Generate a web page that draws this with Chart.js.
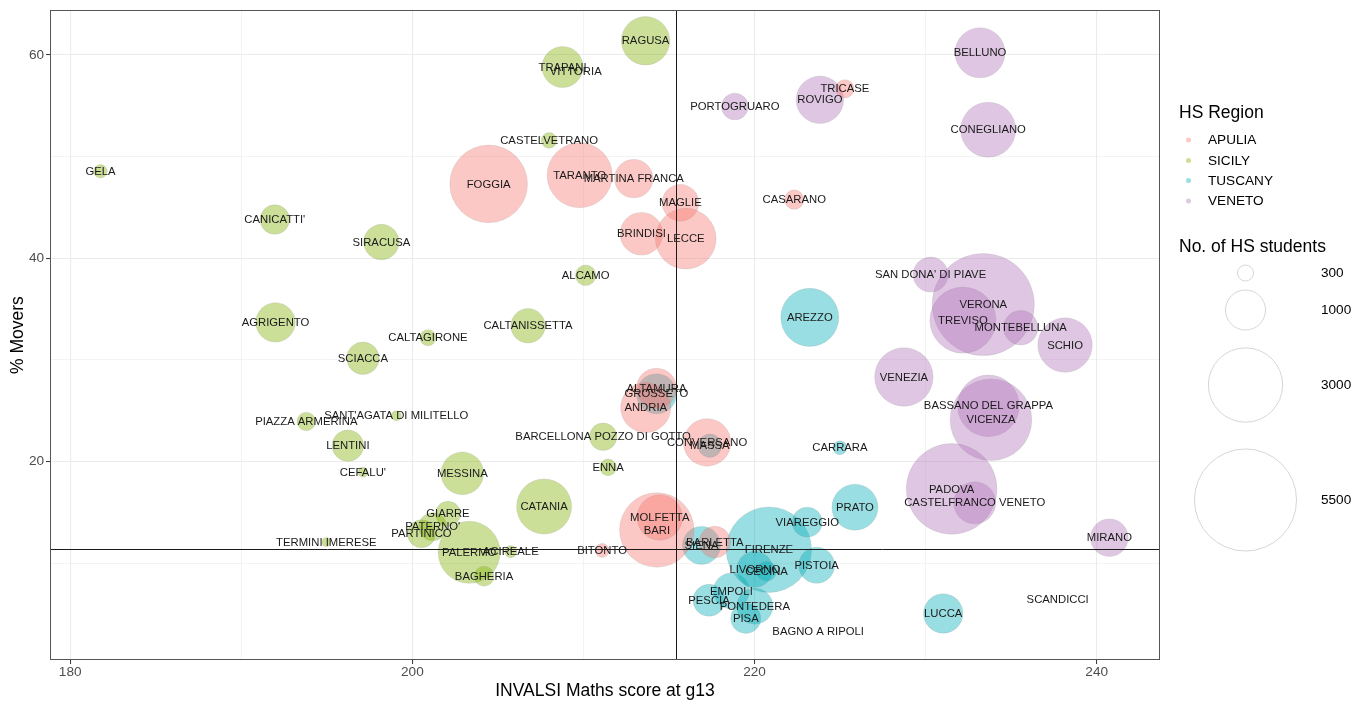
<!DOCTYPE html>
<html><head><meta charset="utf-8">
<script src="https://cdn.jsdelivr.net/npm/chart.js@4.4.1/dist/chart.umd.min.js"></script>
<style>html,body{margin:0;padding:0;background:#fff;}#wrap{position:relative;width:1369px;height:702px;}</style>
</head><body><div id="wrap"><canvas id="c" width="1369" height="702"></canvas></div>
<script>
// ---------- DATA ----------
const regions = ['APULIA', 'SICILY', 'TUSCANY', 'VENETO'];
const regionColors = ['248,118,109', '124,174,0', '0,172,182', '175,115,185'];

const names = [
  "GELA","CANICATTI'","SIRACUSA","AGRIGENTO","CALTAGIRONE","SCIACCA","PIAZZA ARMERINA","SANT'AGATA DI MILITELLO",
  "LENTINI","CEFALU'","TERMINI IMERESE","GIARRE","PATERNO'","PARTINICO","PALERMO","ACIREALE","BAGHERIA","MESSINA",
  "CATANIA","ENNA","BARCELLONA POZZO DI GOTTO","CALTANISSETTA","ALCAMO","CASTELVETRANO","TRAPANI","VITTORIA","RAGUSA",
  "FOGGIA","TARANTO","MARTINA FRANCA","MAGLIE","BRINDISI","LECCE","CASARANO","TRICASE","ALTAMURA","ANDRIA",
  "CONVERSANO","BARI","MOLFETTA","BARLETTA","BITONTO",
  "GROSSETO","MASSA","SIENA","FIRENZE","LIVORNO","CECINA","VIAREGGIO","PISTOIA","EMPOLI","PESCIA","PONTEDERA",
  "PISA","BAGNO A RIPOLI","LUCCA","SCANDICCI","PRATO","CARRARA","AREZZO",
  "PORTOGRUARO","ROVIGO","BELLUNO","CONEGLIANO","SAN DONA' DI PIAVE","VERONA","TREVISO","MONTEBELLUNA","SCHIO",
  "VENEZIA","BASSANO DEL GRAPPA","VICENZA","PADOVA","CASTELFRANCO VENETO","MIRANO"
];
const region = [
  "SICILY","SICILY","SICILY","SICILY","SICILY","SICILY","SICILY","SICILY",
  "SICILY","SICILY","SICILY","SICILY","SICILY","SICILY","SICILY","SICILY","SICILY","SICILY",
  "SICILY","SICILY","SICILY","SICILY","SICILY","SICILY","SICILY","SICILY","SICILY",
  "APULIA","APULIA","APULIA","APULIA","APULIA","APULIA","APULIA","APULIA","APULIA","APULIA",
  "APULIA","APULIA","APULIA","APULIA","APULIA",
  "TUSCANY","TUSCANY","TUSCANY","TUSCANY","TUSCANY","TUSCANY","TUSCANY","TUSCANY","TUSCANY","TUSCANY","TUSCANY",
  "TUSCANY","TUSCANY","TUSCANY","TUSCANY","TUSCANY","TUSCANY","TUSCANY",
  "VENETO","VENETO","VENETO","VENETO","VENETO","VENETO","VENETO","VENETO","VENETO",
  "VENETO","VENETO","VENETO","VENETO","VENETO","VENETO"
];
// INVALSI Maths score at g13
const maths = [
  181.77,191.96,198.19,192.00,200.91,197.11,193.80,199.06,
  196.23,197.11,194.97,202.08,201.19,200.53,203.32,205.75,204.19,202.92,
  207.70,211.44,211.15,206.76,210.13,207.99,208.78,209.55,213.63,
  204.46,209.78,212.94,215.67,213.39,215.98,222.32,225.28,214.27,213.64,
  217.23,214.29,214.46,217.68,211.09,
  214.27,217.39,216.90,220.84,220.02,220.70,223.08,223.63,218.65,217.34,220.02,
  219.49,223.72,231.03,237.72,225.87,224.99,223.23,
  218.85,223.82,233.18,233.66,230.29,233.37,232.18,235.56,238.15,
  228.73,233.67,233.82,231.52,232.87,240.74
];
// % Movers
const movers = [
  48.56,43.82,41.60,33.70,32.19,30.17,23.95,24.51,
  21.57,18.95,12.09,14.87,13.60,12.91,11.08,11.15,8.73,18.85,
  15.59,19.44,22.45,33.36,38.33,51.60,58.82,58.43,61.40,
  47.32,48.17,47.84,45.46,42.42,41.93,45.78,56.67,27.22,25.32,
  21.89,13.28,14.51,12.09,11.27,
  26.67,21.57,11.76,11.34,9.41,9.22,14.05,9.80,7.28,6.37,5.78,
  4.58,3.27,5.07,6.44,15.52,21.37,34.19,
  54.93,55.59,60.22,52.65,38.40,35.46,33.92,33.17,31.47,
  28.33,25.49,24.12,17.32,15.95,12.52
];
// No. of HS students
const students = [
  274,624,822,975,313,718,359,233,
  685,233,223,501,583,583,2147,256,386,1110,
  1728,323,566,787,399,306,1041,190,1378,
  3260,2342,936,867,1110,2059,374,355,1000,1460,
  1329,3012,1235,693,282,
  1000,462,920,3910,844,386,642,844,844,706,844,
  642,182,975,182,1264,282,1902,
  544,1331,1460,1728,808,5500,2409,787,1695,
  1926,2123,3587,4378,1084,904
];

const xTicks = [180, 190, 200, 210, 220, 230, 240];
const xTickLabels = [180, 200, 220, 240];
const yTicks = [10, 20, 30, 40, 50, 60];
const yTickLabels = [20, 40, 60];
const sizeBreaks = [300, 1000, 3000, 5500];
const refMaths = 215.4;   // vertical reference line
const refMovers = 11.37;  // horizontal reference line

// ---------- BUILD ----------
const FONT = '"Liberation Sans", Arial, Helvetica, sans-serif';
function sizeScale(n) { return 0.7 * Math.sqrt(Math.max(n - 182, 0)); }

const datasets = regions.map((rg, k) => {
  const pts = [];
  names.forEach((nm, i) => {
    if (region[i] === rg) pts.push({x: maths[i], y: movers[i], r: sizeScale(students[i]), label: nm});
  });
  return {
    label: rg, data: pts,
    backgroundColor: 'rgba(' + regionColors[k] + ',0.4)',
    borderColor: 'rgba(140,140,140,0.25)',
    borderWidth: 0.7,
    hoverRadius: 0, hoverBorderWidth: 0.7
  };
});

const overlay = {
  id: 'overlay',
  afterDatasetsDraw(chart) {
    const ctx = chart.ctx, ca = chart.chartArea;
    const xs = chart.scales.x, ys = chart.scales.y;
    ctx.save();
    ctx.strokeStyle = '#1a1a1a'; ctx.lineWidth = 1;
    const px = Math.round(xs.getPixelForValue(refMaths)) + 0.5;
    const py = Math.round(ys.getPixelForValue(refMovers)) + 0.5;
    ctx.beginPath(); ctx.moveTo(px, ca.top); ctx.lineTo(px, ca.bottom); ctx.stroke();
    ctx.beginPath(); ctx.moveTo(ca.left, py); ctx.lineTo(ca.right, py); ctx.stroke();
    // point labels
    ctx.font = '11.3px ' + FONT;
    ctx.fillStyle = '#1a1a1a';
    ctx.textAlign = 'center'; ctx.textBaseline = 'middle';
    chart.data.datasets.forEach((ds, i) => {
      const meta = chart.getDatasetMeta(i);
      meta.data.forEach((el, j) => ctx.fillText(ds.data[j].label, el.x, el.y + 0.5));
    });
    ctx.restore();
  },
  afterDraw(chart) {
    const ctx = chart.ctx, ca = chart.chartArea;
    ctx.save();
    // panel border
    ctx.strokeStyle = '#555'; ctx.lineWidth = 1;
    ctx.strokeRect(Math.round(ca.left) + 0.5, Math.round(ca.top) + 0.5,
                   Math.round(ca.right - ca.left) - 1, Math.round(ca.bottom - ca.top) - 1);
    // axis titles
    ctx.fillStyle = '#000';
    ctx.font = '17.5px ' + FONT;
    ctx.textAlign = 'center'; ctx.textBaseline = 'middle';
    ctx.fillText('INVALSI Maths score at g13', (ca.left + ca.right) / 2, 691);
    ctx.save();
    ctx.translate(18, (ca.top + ca.bottom) / 2);
    ctx.rotate(-Math.PI / 2);
    ctx.fillText('% Movers', 0, 0);
    ctx.restore();
    // legend: region
    ctx.textAlign = 'left';
    ctx.fillText('HS Region', 1179, 113.5);
    ctx.font = '13.6px ' + FONT;
    const ly = [140, 160.5, 180.5, 201];
    regions.forEach((rg, k) => {
      ctx.fillStyle = 'rgba(' + regionColors[k] + ',0.4)';
      ctx.beginPath(); ctx.arc(1188.5, ly[k], 2.5, 0, Math.PI * 2); ctx.fill();
      ctx.fillStyle = '#000';
      ctx.fillText(rg, 1208, ly[k] + 0.5);
    });
    // legend: size
    ctx.font = '17.5px ' + FONT;
    ctx.fillText('No. of HS students', 1179, 247);
    ctx.font = '13.6px ' + FONT;
    const sy = [273, 310, 385, 500];
    sizeBreaks.forEach((b, k) => {
      ctx.strokeStyle = '#d6d6d6'; ctx.lineWidth = 1;
      ctx.beginPath(); ctx.arc(1245.5, sy[k], Math.max(sizeScale(b), 8), 0, Math.PI * 2); ctx.stroke();
      ctx.fillStyle = '#000';
      ctx.fillText(String(b), 1321, sy[k] + 0.5);
    });
    ctx.restore();
  }
};

const gridColor = '#ebebeb';
new Chart(document.getElementById('c'), {
  type: 'bubble',
  data: { datasets },
  options: {
    responsive: false, animation: false, devicePixelRatio: 1,
    layout: { autoPadding: false, padding: { left: 0, right: 209, top: 8, bottom: 0 } },
    plugins: { legend: { display: false }, tooltip: { enabled: false } },
    scales: {
      x: {
        type: 'linear', min: 178.82, max: 243.7,
        afterFit: s => { s.height = 42; },
        afterBuildTicks: s => { s.ticks = xTicks.map(v => ({value: v})); },
        border: { display: false },
        grid: {
          color: gridColor,
          lineWidth: c => (xTickLabels.includes(c.tick && c.tick.value) ? 1.1 : 0.6),
          tickColor: c => (xTickLabels.includes(c.tick && c.tick.value) ? '#333' : 'rgba(0,0,0,0)'),
          tickLength: 4, tickWidth: 1
        },
        ticks: {
          autoSkip: false, maxRotation: 0, padding: 0, color: '#4d4d4d',
          font: { family: FONT, size: 13.6 },
          callback: v => (xTickLabels.includes(v) ? String(v) : '')
        }
      },
      y: {
        type: 'linear', min: 0.49, max: 64.41,
        afterFit: s => { s.width = 50; },
        afterBuildTicks: s => { s.ticks = yTicks.map(v => ({value: v})); },
        border: { display: false },
        grid: {
          color: gridColor,
          lineWidth: c => (yTickLabels.includes(c.tick && c.tick.value) ? 1.1 : 0.6),
          tickColor: c => (yTickLabels.includes(c.tick && c.tick.value) ? '#333' : 'rgba(0,0,0,0)'),
          tickLength: 4, tickWidth: 1
        },
        ticks: {
          autoSkip: false, padding: 2, color: '#4d4d4d',
          font: { family: FONT, size: 13.6 },
          callback: v => (yTickLabels.includes(v) ? String(v) : '')
        }
      }
    }
  },
  plugins: [overlay]
});
</script>
</body></html>
